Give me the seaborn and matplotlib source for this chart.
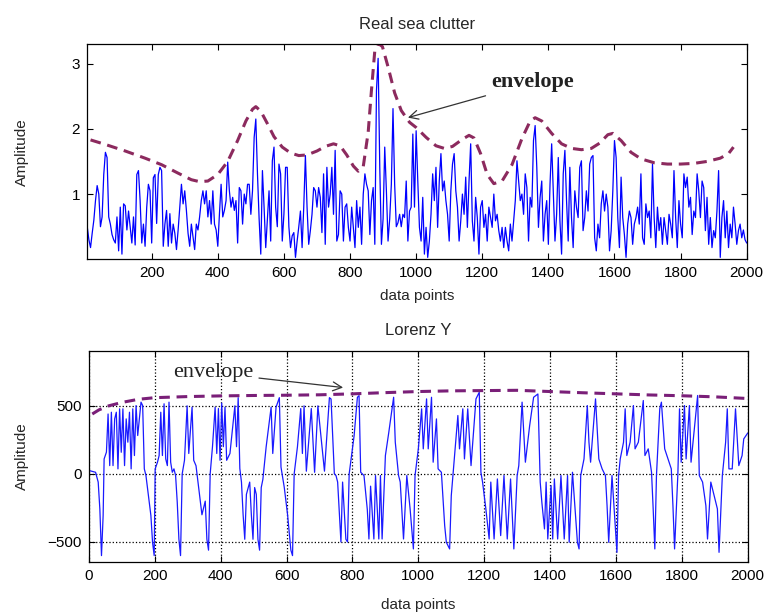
import numpy as np
import pandas as pd
import matplotlib
matplotlib.use('Agg')
import matplotlib.pyplot as plt
import seaborn as sns

# ---- Real sea clutter amplitude, one sample every 5 data points
clutter_0_490 = [0.5, 0.5, 0.3, 0.18, 0.4, 0.6, 0.9, 1.13, 1.0, 0.5,
                 0.65, 1.3, 1.64, 1.56, 0.65, 0.54, 0.38, 0.3, 0.25, 0.65,
                 0.13, 0.8, 0.08, 0.85, 0.82, 0.45, 0.74, 0.5, 0.25, 0.65,
                 0.22, 1.3, 1.36, 0.9, 0.25, 0.54, 0.2, 0.8, 1.15, 1.05,
                 0.25, 1.25, 1.3, 0.55, 1.3, 1.41, 1.36, 0.2, 0.54, 0.75,
                 0.2, 0.7, 0.25, 0.54, 0.4, 0.15, 0.45, 0.8, 1.15, 0.85,
                 1.05, 0.75, 0.4, 0.2, 0.54, 0.35, 0.15, 0.54, 0.45, 0.65,
                 0.9, 1.05, 0.85, 1.05, 0.65, 0.9, 0.54, 1.05, 0.54, 0.45,
                 0.2, 0.7, 1.15, 0.65, 0.75, 0.9, 1.49, 1.05, 0.8, 0.95,
                 0.75, 0.9, 0.25, 1.1, 1.05, 0.54, 1.0, 0.85, 1.15]
clutter_495_990 = [1.15, 0.69, 1.05, 1.87, 2.15, 1.31, 0.62, 0.08, 1.36, 0.8,
                   0.18, 0.62, 1.05, 0.28, 1.51, 1.72, 0.8, 0.5, 1.46, 1.31,
                   0.28, 0.69, 1.41, 1.41, 0.5, 0.18, 0.36, 0.41, 0.03, 0.28,
                   0.5, 0.74, 0.18, 0.8, 1.59, 0.8, 0.23, 0.44, 0.69, 1.1,
                   1.05, 0.8, 1.1, 0.95, 0.41, 1.31, 0.23, 1.41, 0.8, 1.0,
                   1.41, 0.69, 1.67, 0.28, 0.38, 1.05, 1.0, 0.28, 0.8, 0.85,
                   0.49, 0.28, 0.8, 0.49, 0.18, 0.9, 0.49, 0.8, 0.23, 1.0,
                   1.31, 1.15, 1.05, 0.38, 0.9, 1.1, 0.23, 2.59, 3.08, 1.41,
                   0.23, 0.62, 1.72, 1.05, 0.28, 0.62, 1.15, 2.31, 1.15, 0.5,
                   0.56, 0.69, 0.5, 0.69, 0.64, 1.2, 0.28, 0.74, 0.8, 1.92]
clutter_995_1480 = [0.8, 1.97, 1.2, 0.49, 0.28, 0.95, 0.08, 0.49, 0.03, 0.28,
                    0.69, 1.31, 0.9, 1.41, 0.49, 1.2, 1.62, 1.05, 1.2, 0.9,
                    0.69, 0.28, 1.05, 1.46, 1.62, 1.05, 0.8, 0.28, 0.59, 1.0,
                    0.69, 1.26, 0.49, 1.2, 1.77, 0.59, 0.28, 0.95, 0.64, 0.08,
                    0.8, 0.9, 0.49, 0.69, 0.28, 0.8, 0.64, 0.49, 1.0, 0.59,
                    0.69, 0.44, 0.28, 0.49, 0.18, 0.49, 0.28, 0.13, 0.54, 0.28,
                    0.59, 0.9, 1.51, 1.2, 0.9, 1.0, 0.69, 1.31, 1.1, 0.28,
                    0.95, 0.8, 1.82, 2.05, 1.41, 0.49, 0.95, 1.2, 0.28, 0.69,
                    0.9, 0.23, 1.15, 1.77, 1.0, 0.28, 0.69, 1.56, 0.59, 0.08,
                    1.31, 1.67, 0.9, 0.28, 1.41, 0.64, 0.18, 1.05]
clutter_1485_2000 = [0.8, 0.64, 1.41, 1.51, 0.44, 0.64, 1.05, 0.74, 1.46, 1.56,
                     1.59, 0.33, 0.13, 0.54, 0.33, 0.85, 1.05, 0.74, 1.0, 0.8,
                     0.13, 0.44, 1.05, 1.82, 1.56, 0.64, 0.18, 1.26, 0.64, 0.38,
                     0.03, 0.54, 0.74, 0.64, 0.23, 0.54, 0.64, 0.8, 0.54, 1.31,
                     0.33, 0.23, 0.85, 0.64, 0.74, 0.33, 1.46, 0.64, 0.18, 0.8,
                     0.44, 0.64, 0.23, 0.64, 0.44, 0.23, 0.69, 0.54, 0.33, 1.36,
                     0.64, 0.18, 0.9, 0.54, 0.33, 1.31, 1.1, 1.26, 0.8, 0.95,
                     0.38, 0.74, 0.64, 1.31, 1.05, 0.64, 1.2, 1.1, 0.44, 0.95,
                     0.23, 0.64, 0.18, 0.44, 0.33, 0.74, 1.36, 0.03, 0.64, 0.9,
                     0.33, 0.74, 0.18, 0.54, 0.33, 0.8, 0.54, 0.23, 0.44, 0.54,
                     0.33, 0.45, 0.3, 0.25]

# envelope of the sea clutter (data point, amplitude)
clutter_env = [(15, 1.83), (60, 1.76), (120, 1.66), (180, 1.55), (230, 1.45), (280, 1.32),
               (320, 1.22), (345, 1.19), (370, 1.20), (400, 1.30), (430, 1.50), (460, 1.82),
               (485, 2.12), (505, 2.30), (515, 2.34), (530, 2.27), (550, 2.08), (570, 1.88),
               (595, 1.72), (620, 1.63), (645, 1.59), (670, 1.60), (700, 1.66), (725, 1.73),
               (750, 1.77), (770, 1.74), (790, 1.60), (810, 1.43), (825, 1.35), (840, 1.42),
               (855, 1.95), (865, 2.60), (875, 3.20), (885, 3.31), (898, 3.26), (915, 2.95),
               (935, 2.55), (955, 2.28), (980, 2.10), (1000, 2.02), (1030, 1.87), (1060, 1.74),
               (1085, 1.70), (1110, 1.73), (1140, 1.84), (1160, 1.90), (1175, 1.86), (1195, 1.62),
               (1215, 1.30), (1235, 1.16), (1260, 1.20), (1290, 1.45), (1320, 1.85), (1345, 2.12),
               (1360, 2.17), (1380, 2.12), (1410, 1.93), (1440, 1.77), (1470, 1.70), (1500, 1.68),
               (1530, 1.70), (1555, 1.78), (1580, 1.91), (1595, 1.93), (1620, 1.82), (1650, 1.64),
               (1680, 1.54), (1720, 1.48), (1760, 1.46), (1800, 1.46), (1840, 1.47), (1880, 1.50),
               (1920, 1.55), (1945, 1.62), (1960, 1.72)]

# ---- Lorenz Y turning points (data point, value)
lorenz_a = [(0, 25), (20, 12), (28, -60), (33, -257), (38, -600), (43, -306), (46, 110), (53, 160),
            (58, 440), (63, 61), (68, 453), (73, 61), (78, 404), (83, 453), (88, 37), (93, 478),
            (98, 159), (103, 478), (108, 61), (113, 404), (118, 233), (123, 453), (128, 37),
            (133, 478), (138, 135), (143, 502), (148, 282), (158, 527), (163, 502), (168, 37),
            (173, -12), (178, -110), (188, -306), (193, -502), (198, -600), (201, 37), (208, 86),
            (213, 135), (218, 453), (223, 135), (228, 515), (233, 110), (238, 61), (243, 527),
            (248, 86), (253, 12), (258, 37), (263, -12), (268, -208), (273, -478), (278, -600),
            (283, 0), (290, 100), (298, 500), (303, 150), (313, 490), (318, 100), (325, 60),
            (333, -100), (343, -300), (353, -200), (358, -480), (363, -560), (368, 0), (375, 200),
            (383, 490), (388, 150), (393, 480), (398, 100), (403, 520), (408, 200), (413, 490),
            (418, 100), (428, 150), (443, 500), (448, 200), (453, 560), (458, 40), (463, -60),
            (468, -300), (473, -480), (478, -150), (488, -60), (493, -300), (498, -480),
            (503, -100), (508, -150), (513, -480), (518, -560), (523, -100), (528, -40),
            (538, 200), (553, 490), (558, 150), (568, 490), (578, 560), (583, 50), (593, -100),
            (603, -300), (613, -560), (618, -600), (623, 0), (633, 200), (643, 480), (648, 150)]
lorenz_b = [(653, 500), (660, 20), (675, 480), (685, 12), (695, 500), (715, 20), (730, 560),
            (735, 550), (745, 0), (750, -12), (755, -60), (765, -500), (770, -60), (780, -480),
            (785, -500), (790, 0), (805, 280), (815, 563), (820, 575), (825, 12), (835, -12),
            (845, -260), (850, -478), (855, -90), (865, -478), (870, -12), (880, -478), (885, -12),
            (890, -478), (900, 135), (910, 300), (925, 563), (930, 233), (940, -12), (945, -60),
            (955, -478), (965, -12), (975, -257), (985, -551), (990, -12), (1000, 184), (1010, 478),
            (1015, 184), (1025, 551), (1030, 184), (1040, 563), (1045, 86), (1055, 404), (1060, 37),
            (1070, 12), (1080, -380), (1085, -502), (1095, -551), (1100, -160), (1105, -12),
            (1115, 282), (1120, 429), (1125, 184), (1135, 478), (1140, 110), (1150, 478), (1160, 61),
            (1175, 551), (1185, 600), (1190, 12), (1195, -60), (1205, -257), (1215, -478),
            (1220, -60), (1230, -478), (1240, -37), (1250, -453), (1260, -12), (1270, -478),
            (1280, -37), (1290, -551), (1300, -12)]
lorenz_c = [(1305, 61), (1315, 527), (1325, 86), (1338, 355), (1350, 563), (1363, 587), (1370, -60),
            (1375, -208), (1383, -404), (1388, -60), (1393, -478), (1403, -86), (1408, -478),
            (1413, -37), (1423, -478), (1433, -12), (1443, -478), (1453, -12), (1458, -502),
            (1468, 12), (1483, -502), (1488, -551), (1493, -12), (1503, 110), (1513, 502),
            (1518, 233), (1523, 86), (1538, 551), (1548, 110), (1558, 37), (1568, -12), (1573, -233),
            (1578, -502), (1588, -12), (1598, -380), (1603, -576), (1608, -12), (1613, 110),
            (1623, 233), (1628, 478), (1633, 135), (1643, 233), (1653, 502), (1658, 184), (1668, 233),
            (1683, 539), (1688, 135), (1698, 184), (1708, 12), (1713, -257), (1718, -551), (1723, -12),
            (1733, 478), (1738, 527), (1748, 184), (1768, 37), (1773, -233), (1778, -551), (1788, 0),
            (1793, 478), (1798, 86), (1808, 502), (1813, 110), (1823, 502), (1828, 86), (1848, 576),
            (1853, -12), (1863, -60), (1873, -233), (1878, -478), (1888, -60), (1898, -160),
            (1908, -257), (1913, -576), (1923, -12), (1933, 233), (1938, 478), (1943, 37), (1953, 37),
            (1963, 478), (1973, 61), (1983, 135), (1988, 257), (2000, 300)]

lorenz_env = [(10, 440), (30, 470), (60, 500), (100, 525), (150, 548), (200, 560), (300, 568),
              (400, 573), (500, 576), (600, 578), (700, 581), (800, 588), (900, 597), (1000, 605),
              (1100, 610), (1200, 612), (1300, 614), (1400, 605), (1500, 596), (1600, 588),
              (1700, 580), (1800, 574), (1900, 566), (1990, 555)]

clutter = pd.DataFrame({
    'amp': clutter_0_490 + clutter_495_990 + clutter_995_1480 + clutter_1485_2000})
clutter['n'] = np.arange(len(clutter)) * 5
env1 = pd.DataFrame(clutter_env, columns=['n', 'amp'])
lorenz = pd.DataFrame(lorenz_a + lorenz_b + lorenz_c, columns=['n', 'y'])
env2 = pd.DataFrame(lorenz_env, columns=['n', 'y'])

sns.set_theme(style='white')
plt.rcParams['font.family'] = ['Liberation Sans', 'DejaVu Sans']

fig = plt.figure(figsize=(7.69, 6.16), dpi=100)
ax1 = fig.add_axes([0.113, 0.579, 0.858, 0.3496])
ax2 = fig.add_axes([0.1157, 0.0881, 0.8566, 0.3426])

# top panel
sns.lineplot(data=clutter, x='n', y='amp', ax=ax1, color='#0000ff', lw=0.9,
             estimator=None, sort=False)
sns.lineplot(data=env1, x='n', y='amp', ax=ax1, color='#8c2a5e', lw=2.2,
             estimator=None, sort=False)
ax1.lines[-1].set_dashes([3.5, 2.2])
ax1.set_xlim(4, 2000)
ax1.set_ylim(0, 3.3)
ax1.set_xticks(range(200, 2001, 200))
ax1.set_yticks([1, 2, 3])
ax1.set_title('Real sea clutter', fontsize=12, pad=11)
ax1.annotate('envelope', xy=(967, 2.16), xytext=(1228, 2.71),
             ha='left', va='center', fontsize=16, family='Liberation Serif',
             fontweight='bold', color='#222222',
             arrowprops=dict(arrowstyle='->', color='#333333', lw=0.9))

# bottom panel
sns.lineplot(data=lorenz, x='n', y='y', ax=ax2, color='#1a1aff', lw=0.9,
             estimator=None, sort=False)
sns.lineplot(data=env2, x='n', y='y', ax=ax2, color='#7a1f78', lw=2.2,
             estimator=None, sort=False)
ax2.lines[-1].set_dashes([3.5, 2.2])
ax2.set_xlim(0, 2000)
ax2.set_ylim(-645, 905)
ax2.set_xticks(range(0, 2001, 200))
ax2.set_yticks([-500, 0, 500])
ax2.grid(True, ls=':', color='black', lw=0.9)
ax2.set_title('Lorenz Y', fontsize=12, pad=11)
ax2.annotate('envelope', xy=(780, 632), xytext=(376, 742),
             ha='center', va='center', fontsize=16, family='Liberation Serif',
             color='#222222',
             arrowprops=dict(arrowstyle='->', color='#333333', lw=0.9))

for ax, ylx, xly in [(ax1, -0.088, -0.137), (ax2, -0.091, -0.172)]:
    ax.set_xlabel('data points', fontsize=11)
    ax.set_ylabel('Amplitude', fontsize=11)
    ax.xaxis.set_label_coords(0.5, xly)
    ax.yaxis.set_label_coords(ylx, 0.5)
    ax.tick_params(direction='in', top=True, right=True, bottom=True, left=True,
                   length=4, width=0.8, labelsize=11, colors='black', pad=5)
    for s in ax.spines.values():
        s.set_color('black')
        s.set_linewidth(0.9)

fig.savefig('out.png', dpi=100)
